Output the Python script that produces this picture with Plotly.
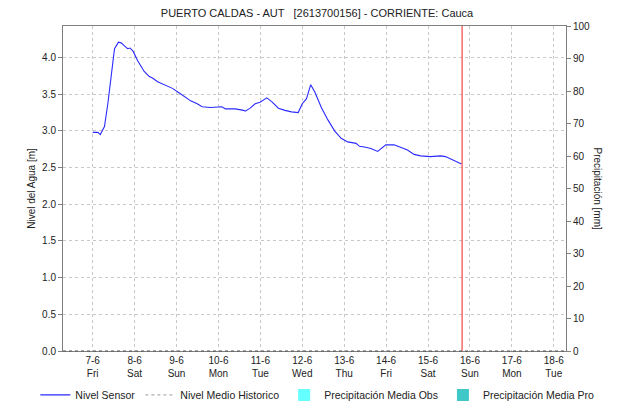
import plotly.graph_objects as go

# ---- data ----
times = [
    "2024-06-07 00:00", "2024-06-07 03:00", "2024-06-07 04:20", "2024-06-07 06:45",
    "2024-06-07 08:40", "2024-06-07 10:35", "2024-06-07 12:30", "2024-06-07 14:45",
    "2024-06-07 16:20", "2024-06-07 18:10", "2024-06-07 20:00", "2024-06-07 21:25",
    "2024-06-07 23:15", "2024-06-08 01:40", "2024-06-08 05:30", "2024-06-08 08:25",
    "2024-06-08 10:15", "2024-06-08 13:10", "2024-06-08 16:00", "2024-06-08 18:50",
    "2024-06-08 21:40", "2024-06-09 01:25", "2024-06-09 05:15", "2024-06-09 08:05",
    "2024-06-09 11:50", "2024-06-09 14:40", "2024-06-09 19:25", "2024-06-10 02:00",
    "2024-06-10 04:00", "2024-06-10 09:40", "2024-06-10 14:25", "2024-06-10 15:20",
    "2024-06-10 18:10", "2024-06-10 21:00", "2024-06-10 23:50", "2024-06-11 03:40",
    "2024-06-11 06:30", "2024-06-11 10:20", "2024-06-11 14:05", "2024-06-11 17:50",
    "2024-06-11 21:40", "2024-06-12 00:00", "2024-06-12 02:25", "2024-06-12 04:50",
    "2024-06-12 07:10", "2024-06-12 10:55", "2024-06-12 14:40", "2024-06-12 18:30",
    "2024-06-12 22:15", "2024-06-13 02:00", "2024-06-13 06:50", "2024-06-13 08:45",
    "2024-06-13 11:35", "2024-06-13 15:20", "2024-06-13 19:10", "2024-06-13 21:00",
    "2024-06-13 23:50", "2024-06-14 04:35", "2024-06-14 08:25", "2024-06-14 12:15",
    "2024-06-14 16:00", "2024-06-14 19:45", "2024-06-15 01:25", "2024-06-15 07:10",
    "2024-06-15 10:00", "2024-06-15 12:50", "2024-06-15 16:15", "2024-06-15 19:10",
]
nivel_sensor = [
    2.98, 2.98, 2.95, 3.06,
    3.37, 3.78, 4.12, 4.21,
    4.20, 4.16, 4.12, 4.13,
    4.08, 3.96, 3.81, 3.74,
    3.72, 3.67, 3.64, 3.62,
    3.58, 3.52, 3.46, 3.41,
    3.37, 3.33, 3.32, 3.33,
    3.30, 3.30, 3.28, 3.27,
    3.31, 3.37, 3.39, 3.45,
    3.40, 3.31, 3.28, 3.26,
    3.25, 3.37, 3.44, 3.63,
    3.53, 3.32, 3.15, 3.00,
    2.90, 2.85, 2.83, 2.79,
    2.78, 2.76, 2.72, 2.76,
    2.81, 2.81, 2.78, 2.74,
    2.68, 2.66, 2.65, 2.66,
    2.65, 2.62, 2.58, 2.55,
]
now_time = "2024-06-15 19:30"

day_ticks = ["2024-06-07", "2024-06-08", "2024-06-09", "2024-06-10", "2024-06-11", "2024-06-12",
             "2024-06-13", "2024-06-14", "2024-06-15", "2024-06-16", "2024-06-17", "2024-06-18"]
day_labels = ["7-6", "8-6", "9-6", "10-6", "11-6", "12-6", "13-6", "14-6", "15-6", "16-6", "17-6", "18-6"]
weekday_labels = ["Fri", "Sat", "Sun", "Mon", "Tue", "Wed", "Thu", "Fri", "Sat", "Sun", "Mon", "Tue"]
x_range = ["2024-06-06 07:00", "2024-06-18 07:00"]

title = "PUERTO CALDAS - AUT &nbsp; [2613700156] - CORRIENTE: Cauca"

FONT = "Liberation Sans, Arial, sans-serif"
GRID = "#c8c8c8"
AXIS = "#808080"
TXT = "#222222"

fig = go.Figure()
fig.add_trace(go.Scatter(x=times, y=nivel_sensor, mode="lines", name="Nivel Sensor",
                         line=dict(color="#2a2aff", width=1.1)))
fig.add_trace(go.Scatter(x=[None], y=[None], mode="lines", name="Nivel Medio Historico",
                         line=dict(color="#b0b0b0", width=1.2, dash="dot")))
fig.add_trace(go.Bar(x=[None], y=[None], name="Precipitación Media Obs",
                     marker_color="#66ffff", yaxis="y2"))
fig.add_trace(go.Bar(x=[None], y=[None], name="Precipitación Media Pro",
                     marker_color="#40c8c8", yaxis="y2"))

fig.add_shape(type="line", xref="x", yref="paper", x0=now_time, x1=now_time, y0=0, y1=1,
              line=dict(color="#ee2222", width=1))
fig.add_shape(type="line", xref="paper", yref="paper", x0=0, x1=1, y0=0, y1=0,
              line=dict(color="#505050", width=1, dash="dot"))

fig.update_layout(
    template="none",
    width=618, height=405,
    margin=dict(l=63, r=52, t=26, b=54, autoexpand=False),
    paper_bgcolor="white", plot_bgcolor="white",
    font=dict(family=FONT, size=10, color=TXT),
    title=dict(text=title, x=0.513, xanchor="center", y=0.968, yanchor="middle",
               font=dict(size=11, color=TXT)),
    showlegend=True,
    legend=dict(orientation="h", x=-0.055, xanchor="left",
                y=-0.135, yanchor="middle", bgcolor="rgba(0,0,0,0)",
                font=dict(size=10.5, color=TXT), itemwidth=30, tracegroupgap=0),
    xaxis=dict(type="date", range=x_range, automargin=False,
               tickvals=day_ticks,
               ticktext=[f"{d}<br>{w}" for d, w in zip(day_labels, weekday_labels)],
               showgrid=True, gridcolor=GRID, griddash="dot", gridwidth=1,
               showline=True, linecolor=AXIS, linewidth=1, mirror=True, ticks="",
               zeroline=False, tickfont=dict(size=10, color=TXT)),
    yaxis=dict(range=[0, 4.43], dtick=0.5, tick0=0, tickformat=".1f", automargin=False,
               showgrid=True, gridcolor=GRID, griddash="dot", gridwidth=1,
               showline=True, linecolor=AXIS, linewidth=1, ticks="outside", ticklen=4,
               tickcolor=AXIS, zeroline=False, tickfont=dict(size=10, color=TXT),
               title=dict(text="Nivel del Agua [m]", font=dict(size=10, color=TXT), standoff=4)),
    yaxis2=dict(range=[0, 100], dtick=10, overlaying="y", side="right", automargin=False,
                showgrid=False, showline=True, linecolor=AXIS, linewidth=1, ticks="outside",
                ticklen=4, tickcolor=AXIS, zeroline=False, tickfont=dict(size=10, color=TXT)),
    bargap=0.2,
)

fig.add_annotation(text="Precipitación [mm]", xref="paper", yref="paper", x=1.0, xshift=31,
                   y=0.5, textangle=90, showarrow=False, xanchor="center", yanchor="middle",
                   font=dict(size=10, color=TXT))

fig.write_html("out.html", config={"displayModeBar": False},
               post_script="document.body.style.margin='0px';")
